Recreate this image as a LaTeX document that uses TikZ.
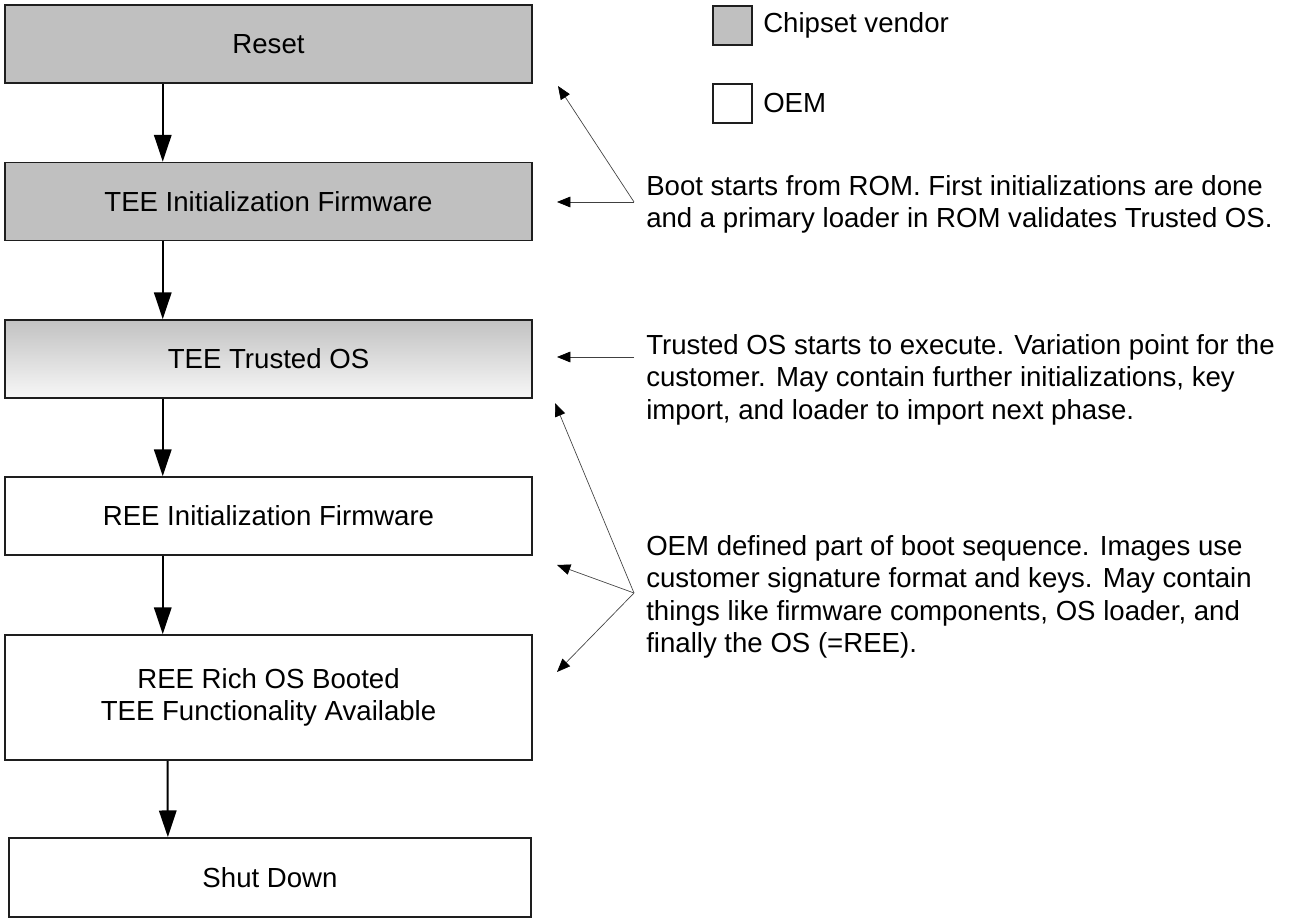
\documentclass[tikz,border=0pt]{standalone}
\usepackage{fontspec}
\setmainfont{Liberation Sans}
\usetikzlibrary{arrows.meta,calc}
\definecolor{boxgray}{RGB}{192,192,192}
\definecolor{edgegray}{RGB}{30,30,30}
\tikzset{
  stage/.style={draw=edgegray, line width=1.3pt, rectangle, inner sep=0pt,
    minimum width=395.25pt, minimum height=58.5pt, align=center,
    font=\fontsize{20.7}{24.4}\selectfont},
  vendor/.style={stage, fill=boxgray},
  oem/.style={stage, fill=white},
  flow/.style={line width=1.5pt, -{Triangle[length=20pt,width=13pt]}},
  ann/.style={draw=black!75, line width=0.5pt, -{Triangle[length=10pt,width=8pt,color=black]}},
  note/.style={anchor=north west, inner sep=0pt, align=left,
    font=\fontsize{20.7}{24.4}\selectfont},
  legbox/.style={draw=edgegray, line width=1.3pt, minimum size=29.25pt, inner sep=0pt},
  legtext/.style={anchor=west, inner sep=0pt, font=\fontsize{20.7}{24.4}\selectfont}
}
\begin{document}
\begin{tikzpicture}[x=0.75pt, y=-0.75pt]
\useasboundingbox (0,0) rectangle (1299,923);

% stages
\node[vendor] (reset) at (268.5,44) {Reset};
\node[vendor] (teeinit) at (268.5,201.5) {TEE Initialization Firmware};
\node[stage, top color=black!24, bottom color=black!3] (tos) at (268.5,359) {TEE Trusted OS};
\node[oem] (reeinit) at (268.5,516) {REE Initialization Firmware};
\node[oem, minimum height=93.75pt] (rich) at (268.5,697.5) {REE Rich OS Booted\\TEE Functionality Available};
\node[oem, minimum width=391.5pt, minimum height=59.25pt] (shut) at (270,877.5) {Shut Down};

% flow arrows
\draw[flow] ($(reset.south west)!0.3!(reset.south east)$) -- ($(teeinit.north west)!0.3!(teeinit.north east)$);
\draw[flow] ($(teeinit.south west)!0.3!(teeinit.south east)$) -- ($(tos.north west)!0.3!(tos.north east)$);
\draw[flow] ($(tos.south west)!0.3!(tos.south east)$) -- ($(reeinit.north west)!0.3!(reeinit.north east)$);
\draw[flow] ($(reeinit.south west)!0.3!(reeinit.south east)$) -- ($(rich.north west)!0.3!(rich.north east)$);
\draw[flow] ($(rich.south west)!0.309!(rich.south east)$) -- ($(shut.north west)!0.305!(shut.north east)$);

% legend
\node[legbox, fill=boxgray] (legv) at (732.5,25.5) {};
\node[legtext] (legvt) at (763,25) {Chipset vendor};
\node[legbox, fill=white] (lego) at (732.5,103.5) {};
\node[legtext] (legot) at (763,103) {OEM};

% notes
\node[note] (n1) at (646,175) {Boot starts from ROM. First initializations are done\\and a primary loader in ROM validates Trusted OS.};
\node[note] (n2) at (646,334) {Trusted OS starts to execute. Variation point for the\\customer. May contain further initializations, key\\import, and loader to import next phase.};
\node[note] (n3) at (646,535) {OEM defined part of boot sequence. Images use\\customer signature format and keys. May contain\\things like firmware components, OS loader, and\\finally the OS (=REE).};

% annotation arrows
\coordinate (v1) at (634,202);
\coordinate (t1a) at (558,86);
\coordinate (t1b) at (557,202);
\draw[ann] (v1) -- (t1a);
\draw[ann] (v1) -- (t1b);

\coordinate (v2) at (634,357);
\coordinate (t2) at (557,357);
\draw[ann] (v2) -- (t2);

\coordinate (v3) at (634,593);
\coordinate (t3a) at (555,403);
\coordinate (t3b) at (557,565);
\coordinate (t3c) at (557,672);
\draw[ann] (v3) -- (t3a);
\draw[ann] (v3) -- (t3b);
\draw[ann] (v3) -- (t3c);
\end{tikzpicture}
\end{document}
